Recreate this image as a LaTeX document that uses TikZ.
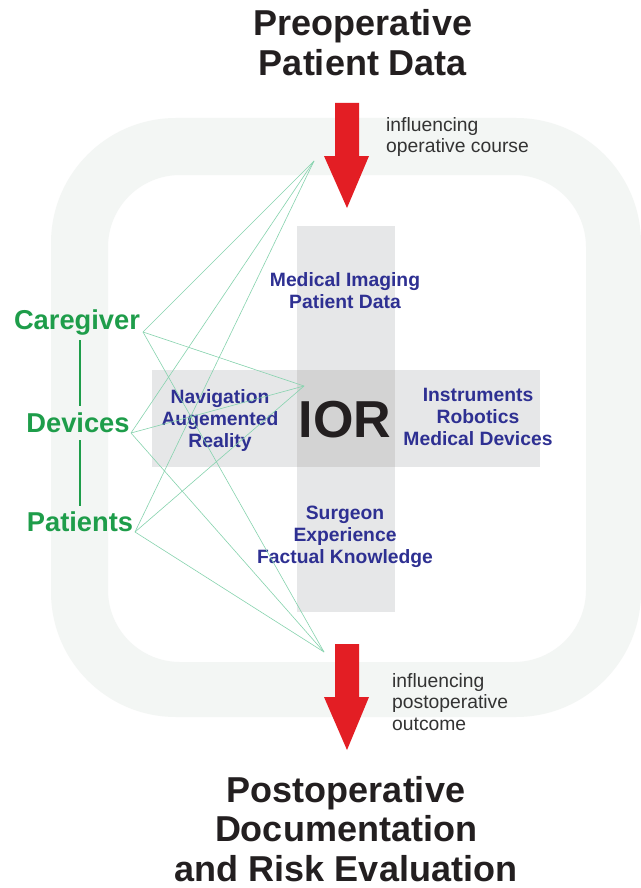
\documentclass[tikz,border=0pt]{standalone}
\usepackage{fontspec}
\setmainfont{Liberation Sans}
\definecolor{ringc}{HTML}{F3F6F4}
\definecolor{barc}{HTML}{E6E7E8}
\definecolor{barmid}{HTML}{D3D3D3}
\definecolor{redc}{HTML}{E31E24}
\definecolor{bluec}{HTML}{2E3092}
\definecolor{greenc}{HTML}{1E9D4A}
\definecolor{linec}{HTML}{86D3AE}
\definecolor{darkc}{HTML}{231F20}
\definecolor{grayt}{HTML}{333333}
\tikzset{
  title/.style={font=\fontsize{36}{40}\selectfont\bfseries, text=darkc, align=center, inner sep=0pt},
  bluelab/.style={font=\fontsize{19.3}{22}\selectfont\bfseries, text=bluec, align=center, inner sep=0pt},
  greenlab/.style={font=\fontsize{27.3}{30}\selectfont\bfseries, text=greenc, inner sep=0pt},
  smalltxt/.style={font=\fontsize{19.3}{21.5}\selectfont, text=grayt, align=left, inner sep=0pt, anchor=west},
  thinline/.style={draw=linec, line width=0.6pt},
  greenbar/.style={draw=greenc, line width=2pt},
  redarrow/.style={fill=redc, draw=none}
}
\begin{document}
\begin{tikzpicture}[x=1pt,y=-1pt]
\fill[white] (0,0) rectangle (640,888);
\useasboundingbox (0,0) rectangle (640,888);
% ring
\fill[ringc, even odd rule]
  [rounded corners=125] (51,118) rectangle (641,717)
  [rounded corners=72] (108,175) rectangle (586,662);
% gray bars
\fill[barc] (297,226) rectangle (395,612);
\fill[barc] (152,370) rectangle (540,467);
\fill[barmid] (297,370) rectangle (395,467);
% titles
\node[title] (pre) at (363,43) {Preoperative\\Patient Data};
\node[title, font=\fontsize{36}{39.5}\selectfont\bfseries] (post) at (346,829) {Postoperative\\Documentation\\and Risk Evaluation};
% red arrows
\fill[redarrow] (335,103) -- (359,103) -- (359,156) -- (369,156) -- (347,208) -- (324,156) -- (335,156) -- cycle;
\fill[redarrow] (335,644) -- (359,644) -- (359,697) -- (369,697) -- (347,750) -- (324,697) -- (335,697) -- cycle;
\node[smalltxt] (inf1) at (386,137) {influencing\\operative course};
\node[smalltxt] (inf2) at (392,702) {influencing\\postoperative\\outcome};
% central labels
\node[font=\fontsize{52}{52}\selectfont\bfseries, text=darkc, inner sep=0pt] (ior) at (345,420) {IOR};
\node[bluelab] (img) at (345,291) {Medical Imaging\\Patient Data};
\node[bluelab] (nav) at (220,421) {Navigation\\Augemented\\Reality};
\node[bluelab] (ins) at (478,417) {Instruments\\Robotics\\Medical Devices};
\node[bluelab] (sur) at (345,537) {Surgeon\\Experience\\Factual Knowledge};
% green labels
\node[greenlab] (cg) at (77,322) {Caregiver};
\node[greenlab] (dv) at (78,423) {Devices};
\node[greenlab] (pt) at (80,522) {Patients};
\coordinate (cga) at (80,340);
\coordinate (dva) at (80,406);
\coordinate (dvb) at (80,440);
\coordinate (pta) at (80,506);
\draw[greenbar] (cga) -- (dva);
\draw[greenbar] (dvb) -- (pta);
% fan lines
\coordinate (cgo) at (143,332);
\coordinate (dvo) at (131,433);
\coordinate (pto) at (135,532);
\coordinate (T) at (314,161);
\coordinate (M) at (304,386);
\coordinate (B) at (324,652);
\foreach \s in {cgo,dvo,pto}{
  \foreach \t in {T,M,B}{
    \draw[thinline] (\s) -- (\t);
  }
}
\end{tikzpicture}
\end{document}
